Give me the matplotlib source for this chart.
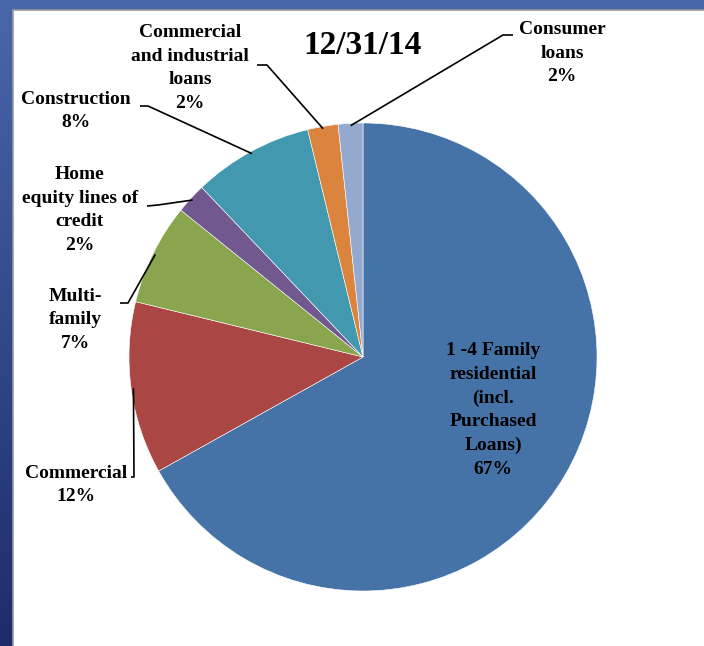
import matplotlib
matplotlib.use('Agg')
import matplotlib.pyplot as plt
import numpy as np
from matplotlib.patches import Rectangle
from matplotlib.colors import LinearSegmentedColormap

# ---- data ----
categories = ["1 -4 Family\nresidential\n(incl.\nPurchased\nLoans)",
              "Commercial",
              "Multi-\nfamily",
              "Home\nequity lines of\ncredit",
              "Construction",
              "Commercial\nand industrial\nloans",
              "Consumer\nloans"]
values = [66.9, 11.9, 7.0, 2.1, 8.3, 2.1, 1.7]
colors = ['#4572A7', '#AA4643', '#89A54E', '#71588F', '#4198AF', '#DB843D', '#93A9CF']
title = "12/31/14"

# ---- layout (pixel coordinates, y from top) ----
W, H = 704, 646
CX, CY, R = 363, 357, 234
label_pos = [(493, 410), (76, 485), (75, 320), (80, 210), (76, 111), (190, 68), (562, 53)]
# leader: [start point near text, elbow point] (None for inside label)
leaders = [None,
           [(131, 477), (134, 477)],
           [(120, 303), (128, 303)],
           [(147, 206), (158, 205)],
           [(140, 106), (148, 106)],
           [(257, 65), (267, 65)],
           [(513, 35), (503, 35)]]

FONT = 'Liberation Serif'

fig = plt.figure(figsize=(W / 100, H / 100), dpi=100)

# background frame
bg = fig.add_axes([0, 0, 1, 1])
grad = np.linspace(0, 1, 256)[:, None]
cmap = LinearSegmentedColormap.from_list('bg', ['#4867aa', '#1d2b6b'])
bg.imshow(grad, aspect='auto', cmap=cmap, extent=[0, W, 0, H], origin='upper')
bg.set_xlim(0, W)
bg.set_ylim(0, H)
bg.add_patch(Rectangle((13, -5), W, H - 10 + 5, facecolor='white',
                       edgecolor='#9a9a9a', lw=1.2))
bg.axis('off')

ax = fig.add_axes([0, 0, 1, 1])
ax.patch.set_alpha(0)


def fy(y):
    return H - y


wedges, _ = ax.pie(values, colors=colors, startangle=90, counterclock=False,
                   center=(CX, fy(CY)), radius=R,
                   wedgeprops=dict(edgecolor='white', linewidth=0.4))
ax.set_xlim(0, W)
ax.set_ylim(0, H)
ax.set_aspect('equal', adjustable='box')
ax.axis('off')

total = sum(values)
for i, (cat, v) in enumerate(zip(categories, values)):
    pct = f"{round(v / total * 100):.0f}%"
    x, y = label_pos[i]
    ax.text(x, fy(y), cat + "\n" + pct, ha='center', va='center',
            fontsize=14, fontweight='bold', family=FONT, color='black',
            linespacing=1.5, multialignment='center')
    if leaders[i] is not None:
        w = wedges[i]
        mid = np.deg2rad((w.theta1 + w.theta2) / 2)
        ex = CX + 0.99 * R * np.cos(mid)
        ey = fy(CY) + 0.99 * R * np.sin(mid)
        (x0, y0), (x1, y1) = leaders[i]
        ax.plot([x0, x1, ex], [fy(y0), fy(y1), ey], color='black', lw=1.2,
                solid_capstyle='butt')

ax.text(363, fy(45), title, ha='center', va='center', fontsize=24,
        fontweight='bold', family=FONT, color='black')

fig.savefig('out.png', dpi=100)
